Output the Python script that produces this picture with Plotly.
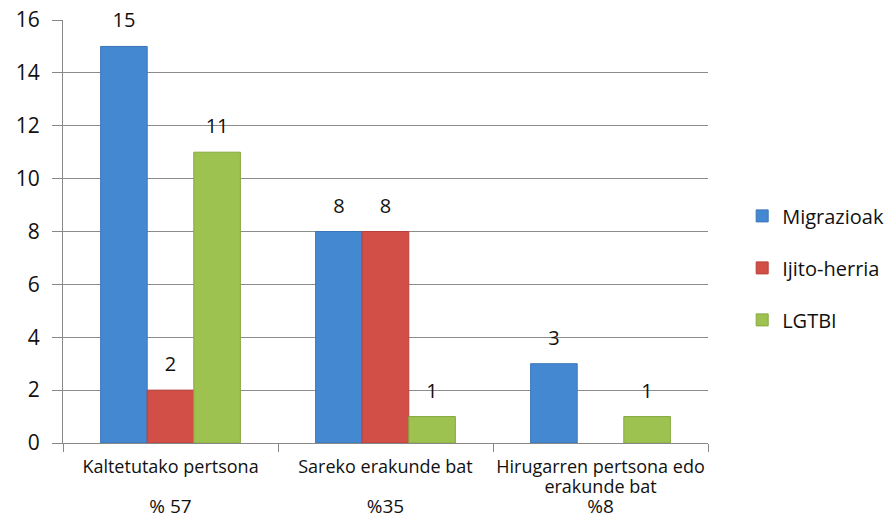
import plotly.graph_objects as go

categories = ["Kaltetutako pertsona", "Sareko erakunde bat", "Hirugarren pertsona edo<br>erakunde bat"]
percentages = ["% 57", "%35", "%8"]
series_names = ["Migrazioak", "Ijito-herria", "LGTBI"]
migrazioak = [15, 8, 3]
ijito_herria = [2, 8, None]
lgtbi = [11, 1, 1]
y_ticks = [0, 2, 4, 6, 8, 10, 12, 14, 16]

colors = ["#4588d2", "#d24f48", "#9ec250"]
line_colors = ["#3a74b8", "#b8403a", "#86a840"]
FONT = "Open Sans"


def big(s, px):
    return "<span style='font-size:%dpx'>%s</span>" % (px, s)


tick_labels = []
for c, p in zip(categories, percentages):
    lines = [big(part, 18) for part in c.split("<br>")]
    if len(lines) == 1:
        lines.append(" ")
    lines.append(big(p, 19))
    tick_labels.append("<br>".join(lines))

fig = go.Figure()
for name, vals, col, lc in zip(series_names, [migrazioak, ijito_herria, lgtbi], colors, line_colors):
    fig.add_trace(go.Bar(
        name=name,
        x=categories,
        y=vals,
        legendgroup=name,
        marker=dict(color=col, line=dict(color=lc, width=1)),
        text=["" if v is None else big(str(v), 20) + "<br> " for v in vals],
        textposition="outside",
        texttemplate="%{text}",
        textfont=dict(family=FONT, size=10, color="#111111"),
        constraintext="none",
        cliponaxis=False,
    ))

fig.update_layout(
    width=887, height=509,
    margin=dict(l=55, r=187, t=12, b=74, autoexpand=False),
    paper_bgcolor="white", plot_bgcolor="white",
    barmode="group", bargap=0.35, bargroupgap=0,
    font=dict(family=FONT, color="#111111"),
    showlegend=True,
    legend=dict(x=1.053, y=0.414, xanchor="left", yanchor="middle",
                font=dict(family=FONT, size=20, color="#111111"),
                tracegroupgap=23, itemclick=False),
)
fig.update_xaxes(
    automargin=False, tickangle=0, ticklabeloverflow="allow",
    ticklabelstandoff=10,
    tickmode="array", tickvals=categories, ticktext=tick_labels,
    tickfont=dict(family=FONT, size=15.5, color="#111111"),
    showline=True, linecolor="#888888", linewidth=1,
    ticks="outside", ticklen=8, tickcolor="#888888", tickson="boundaries",
    showgrid=False,
)
fig.update_yaxes(
    automargin=False, ticklabeloverflow="allow",
    range=[0, 16], tickvals=y_ticks,
    tickfont=dict(family=FONT, size=21, color="#111111"),
    showgrid=True, gridcolor="#8c8c8c", gridwidth=1,
    showline=True, linecolor="#888888", linewidth=1,
    ticks="outside", ticklen=10, tickcolor="#888888",
    ticklabelstandoff=8, zeroline=False,
)

fig.write_html("out.html")
